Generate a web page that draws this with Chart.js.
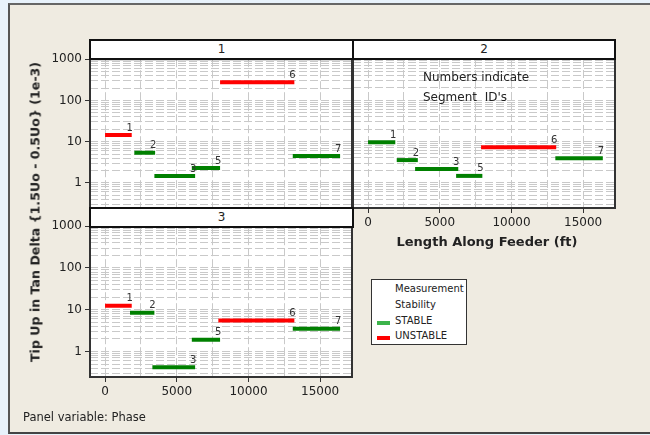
<!DOCTYPE html>
<html>
<head>
<meta charset="utf-8">
<script src="https://cdn.jsdelivr.net/npm/chart.js@4.4.1/dist/chart.umd.min.js"></script>
<style>
  html, body { margin: 0; width: 650px; height: 435px; overflow: hidden; }
  body { background: #e8f2fb; font-family: 'DejaVu Sans', sans-serif; color: #222; position: relative; }
  #frame { position: absolute; left: 8px; top: 3px; width: 642px; height: 431px; box-sizing: border-box; background: #efebe1; border-left: 2px solid #555; border-top: 2px solid #666; border-bottom: 2px solid #444; }
  canvas { position: absolute; }
  .strip { position: absolute; box-sizing: border-box; border: 2px solid #111; background: #fff; text-align: center; font-size: 12px; line-height: 17px; z-index: 2; }
  .txt { position: absolute; white-space: nowrap; z-index: 3; }
  #legend { position: absolute; left: 371px; top: 279px; width: 96px; height: 66px; box-sizing: border-box; background: #fff; border: 1.5px solid #333; font-size: 10px; }
  #legend div { position: absolute; left: 23px; white-space: nowrap; }
  #legend span { position: absolute; left: 5px; width: 13px; height: 4px; }
</style>
</head>
<body>
<div id="frame"></div>

<canvas id="panel1" width="322" height="173" style="left:40px; top:49px;"></canvas>
<canvas id="panel2" width="272" height="184" style="left:353px; top:49px;"></canvas>
<canvas id="panel3" width="322" height="186" style="left:40px; top:216px;"></canvas>

<div class="strip" style="left:89px; top:39px; width:265px; height:21px;">1</div>
<div class="strip" style="left:352px; top:39px; width:264px; height:21px;">2</div>
<div class="strip" style="left:89px; top:207px; width:265px; height:21px;">3</div>

<div class="txt" style="left:423px; top:70px; font-size:12px;">Numbers indicate</div>
<div class="txt" style="left:423px; top:90px; font-size:12px;">Segment&nbsp; ID's</div>

<div class="txt" style="left:487px; top:241px; transform:translate(-50%,-50%); font-size:13px; font-weight:bold;">Length Along Feeder (ft)</div>
<div class="txt" style="left:35px; top:212px; transform:translate(-50%,-50%) rotate(-90deg); font-size:12.6px; font-weight:bold;">Tip Up in Tan Delta {1.5Uo - 0.5Uo} (1e-3)</div>
<div class="txt" style="left:23px; top:410px; font-size:11.5px;">Panel variable: Phase</div>

<div id="legend">
  <div style="top:3px;">Measurement</div>
  <div style="top:19px;">Stability</div>
  <div style="top:35px;">STABLE</div>
  <div style="top:50px;">UNSTABLE</div>
  <span style="top:41px; background:#3cb44b;"></span>
  <span style="top:56px; background:#ff0000;"></span>
</div>

<script>
// segment ids drawn in every panel (there is no segment 4)
const segmentIds = [1, 2, 3, 5, 6, 7];

// phase 1
const phase1Start = [0, 2040, 3440, 6050, 8020, 13090];
const phase1End = [1860, 3490, 6280, 8020, 13200, 16390];
const phase1TipUp = [14.5, 5.4, 1.47, 2.3, 276, 4.5];
const phase1Stability = ['UNSTABLE', 'STABLE', 'STABLE', 'STABLE', 'UNSTABLE', 'STABLE'];

// phase 2
const phase2Start = [0, 2000, 3280, 6140, 7880, 13060];
const phase2End = [1900, 3470, 6290, 7970, 13120, 16370];
const phase2TipUp = [9.6, 3.55, 2.17, 1.47, 7.3, 3.96];
const phase2Stability = ['STABLE', 'STABLE', 'STABLE', 'STABLE', 'UNSTABLE', 'STABLE'];

// phase 3
const phase3Start = [0, 1740, 3300, 6050, 7900, 13090];
const phase3End = [1860, 3440, 6280, 8020, 13200, 16390];
const phase3TipUp = [12.5, 8.45, 0.417, 1.9, 5.5, 3.52];
const phase3Stability = ['UNSTABLE', 'STABLE', 'STABLE', 'STABLE', 'UNSTABLE', 'STABLE'];

// axes
const xGridValues = [0, 2500, 5000, 7500, 10000, 12500, 15000];
const xTickLabels = [0, 5000, 10000, 15000];
const yGridValues = [0.3, 0.4, 0.5, 0.6, 0.7, 0.8, 0.9,
  1, 2, 3, 4, 5, 6, 7, 8, 9,
  10, 20, 30, 40, 50, 60, 70, 80, 90,
  100, 200, 300, 400, 500, 600, 700, 800, 900, 1000];
const yTickLabels = [1, 10, 100, 1000];

const xMin = -1050, xMax = 17220;
const yMin = 0.245, yMax = 1000;

const stableColor = '#008000';
const unstableColor = '#ff0000';
const gridColor = '#c9c9c9';

Chart.defaults.font.family = "'DejaVu Sans', sans-serif";
Chart.defaults.font.size = 12;
Chart.defaults.color = '#222';

function segmentDatasets(start, end, tipUp, stability) {
  return segmentIds.map((id, i) => ({
    label: 'Segment ' + id,
    segmentId: id,
    data: [{ x: start[i], y: tipUp[i] }, { x: end[i], y: tipUp[i] }],
    borderColor: stability[i] === 'STABLE' ? stableColor : unstableColor,
    backgroundColor: stability[i] === 'STABLE' ? stableColor : unstableColor,
    borderWidth: 4,
    borderCapStyle: 'butt',
    pointRadius: 0,
    showLine: true,
    fill: false
  }));
}

const panelPlugin = {
  id: 'panelPlugin',
  beforeDraw(chart) {
    const { ctx, chartArea: a } = chart;
    ctx.save();
    ctx.fillStyle = '#fff';
    ctx.fillRect(a.left, a.top, a.right - a.left, a.bottom - a.top);
    ctx.restore();
  },
  afterDatasetsDraw(chart) {
    const ctx = chart.ctx;
    ctx.save();
    ctx.font = "10px 'DejaVu Sans', sans-serif";
    ctx.fillStyle = '#333';
    ctx.textAlign = 'center';
    ctx.textBaseline = 'middle';
    chart.data.datasets.forEach((ds, i) => {
      const pt = chart.getDatasetMeta(i).data[1];
      ctx.fillText(String(ds.segmentId), pt.x - 2, pt.y - 7);
    });
    ctx.restore();
  },
  afterDraw(chart) {
    const { ctx, chartArea: a } = chart;
    ctx.save();
    ctx.strokeStyle = '#333';
    ctx.lineWidth = 2;
    ctx.strokeRect(a.left, a.top, a.right - a.left, a.bottom - a.top);
    ctx.restore();
  }
};

function panelOptions(showX, showY) {
  return {
    responsive: false,
    animation: false,
    // panel 1 has no x labels, so its bottom padding has to be fixed here
    layout: { padding: { top: 10, right: 10, bottom: showX ? 0 : 14, left: 0 } },
    plugins: { legend: { display: false }, tooltip: { enabled: false } },
    scales: {
      x: {
        type: 'linear',
        min: xMin,
        max: xMax,
        afterBuildTicks: s => { s.ticks = xGridValues.map(v => ({ value: v })); },
        afterFit: s => { s.height = showX ? 25 : 0; },
        ticks: {
          display: showX,
          autoSkip: false,
          maxRotation: 0,
          padding: 3,
          color: '#222',
          callback: v => xTickLabels.includes(v) ? String(v) : ''
        },
        grid: {
          color: gridColor,
          lineWidth: 1,
          drawTicks: showX,
          tickLength: 5,
          tickWidth: 1,
          tickBorderDash: [],
          tickColor: c => (c.tick && xTickLabels.includes(c.tick.value)) ? '#333' : 'rgba(0,0,0,0)',
          borderDash: [8, 3]
        },
        border: { display: false, dash: [8, 3] }
      },
      y: {
        type: 'logarithmic',
        min: yMin,
        max: yMax,
        afterBuildTicks: s => { s.ticks = yGridValues.map(v => ({ value: v })); },
        afterFit: s => { s.width = showY ? 50 : 0; },
        ticks: {
          display: showY,
          autoSkip: false,
          padding: 3,
          color: '#222',
          callback: v => yTickLabels.includes(v) ? String(v) : ''
        },
        grid: {
          color: gridColor,
          lineWidth: 1,
          drawTicks: showY,
          tickLength: 5,
          tickWidth: 1,
          tickBorderDash: [],
          tickColor: c => (c.tick && yTickLabels.includes(c.tick.value)) ? '#333' : 'rgba(0,0,0,0)',
          borderDash: [8, 3]
        },
        border: { display: false, dash: [8, 3] }
      }
    }
  };
}

new Chart(document.getElementById('panel1'), {
  type: 'scatter',
  data: { datasets: segmentDatasets(phase1Start, phase1End, phase1TipUp, phase1Stability) },
  options: panelOptions(false, true),
  plugins: [panelPlugin]
});

new Chart(document.getElementById('panel2'), {
  type: 'scatter',
  data: { datasets: segmentDatasets(phase2Start, phase2End, phase2TipUp, phase2Stability) },
  options: panelOptions(true, false),
  plugins: [panelPlugin]
});

new Chart(document.getElementById('panel3'), {
  type: 'scatter',
  data: { datasets: segmentDatasets(phase3Start, phase3End, phase3TipUp, phase3Stability) },
  options: panelOptions(true, true),
  plugins: [panelPlugin]
});
</script>
</body>
</html>
